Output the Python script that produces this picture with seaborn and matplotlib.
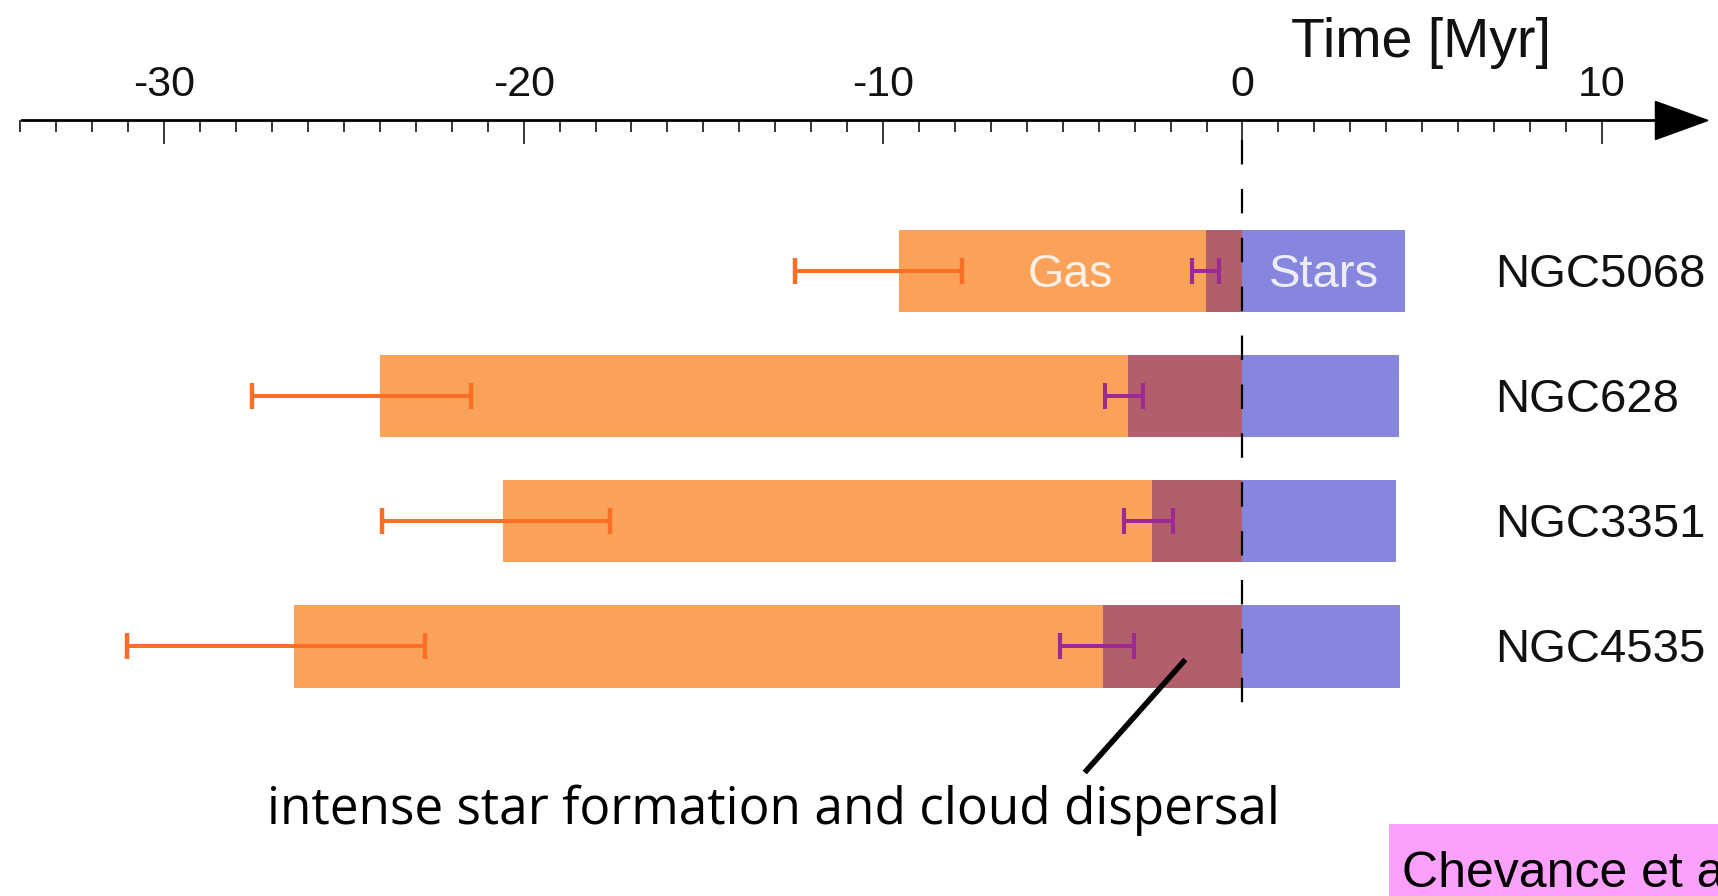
import numpy as np
import pandas as pd
import seaborn as sns
import matplotlib.pyplot as plt
from matplotlib.ticker import FixedLocator, FixedFormatter
from matplotlib.patches import Polygon, Rectangle

# values (Myr)
galaxies = ['NGC5068', 'NGC628', 'NGC3351', 'NGC4535']
gas_start = [-9.57, -23.99, -20.57, -26.38]
overlap_start = [-1.01, -3.19, -2.53, -3.89]
stars_end = [4.52, 4.36, 4.28, 4.39]
gas_err_lo = [2.89, 3.58, 3.38, 4.67]
gas_err_hi = [1.77, 2.52, 2.98, 3.63]
overlap_err_lo = [0.40, 0.64, 0.78, 1.19]
overlap_err_hi = [0.35, 0.41, 0.60, 0.87]
major_ticks = [-30, -20, -10, 0, 10]
major_labels = ['-30', '-20', '-10', '0', '10']

df = pd.DataFrame({'galaxy': galaxies, 'gas': gas_start,
                   'overlap': overlap_start, 'stars': stars_end})

sns.set_theme(style='white')
plt.rcParams['font.family'] = ['Liberation Sans', 'DejaVu Sans']

GAS = '#fba25a'
OVER = '#b25f6b'
STARS = '#8786df'
GAS_ERR = '#fb6e26'
OVER_ERR = '#9d2a94'

fig = plt.figure(figsize=(17.18, 8.96), dpi=100)
ax = fig.add_axes([0, 0, 1, 1])

# stacked phases: gas (0 -> start), overlap on top, stars (0 -> end)
sns.barplot(data=df, y='galaxy', x='gas', orient='h', color=GAS,
            saturation=1, width=0.66, linewidth=0, ax=ax, zorder=2)
sns.barplot(data=df, y='galaxy', x='overlap', orient='h', color=OVER,
            saturation=1, width=0.66, linewidth=0, ax=ax, zorder=3)
sns.barplot(data=df, y='galaxy', x='stars', orient='h', color=STARS,
            saturation=1, width=0.66, linewidth=0, ax=ax, zorder=3)

rows = np.arange(len(galaxies))
ax.errorbar(gas_start, rows, xerr=[gas_err_lo, gas_err_hi], fmt='none',
            ecolor=GAS_ERR, elinewidth=2.9, capsize=9.4, capthick=3.2, zorder=5)
ax.errorbar(overlap_start, rows, xerr=[overlap_err_lo, overlap_err_hi], fmt='none',
            ecolor=OVER_ERR, elinewidth=2.9, capsize=9.4, capthick=3.0, zorder=5)

# t = 0 reference
ax.plot([0, 0], [-1.047, 3.485], color='black', lw=1.6,
        ls=(0, (11, 11)), zorder=4)

# limits chosen so the layout matches the original panel
ax.set_xlim(-34.57, 13.23)
ax.set_ylim(4.996, -2.166)

# timeline axis on top with an arrow
y_axis = -1.203
for s in ['left', 'right', 'bottom']:
    ax.spines[s].set_visible(False)
ax.spines['top'].set_position(('data', y_axis))
ax.spines['top'].set_bounds(-33.96, 11.6)
ax.spines['top'].set_linewidth(2)
ax.spines['top'].set_color('black')
ax.xaxis.tick_top()
ax.xaxis.set_major_locator(FixedLocator(major_ticks))
ax.xaxis.set_major_formatter(FixedFormatter(major_labels))
ax.xaxis.set_minor_locator(FixedLocator(np.arange(-34, 11)))
ax.tick_params(axis='x', which='major', direction='in', length=17, width=1.1,
               color='black', pad=11, labelsize=31, labelcolor='#111111')
ax.tick_params(axis='x', which='minor', direction='in', length=8.6, width=1.1,
               color='black')
ax.set_yticks([])
ax.set_ylabel('')
ax.set_xlabel('')
ax.add_patch(Polygon([[11.49, y_axis - 0.152], [12.95, y_axis], [11.49, y_axis + 0.152]],
                     closed=True, color='black', clip_on=False, zorder=6))
ax.text(1.34, -1.711, 'Time [Myr]', fontsize=40, ha='left', va='baseline', color='#111111')

# labels
for i, g in enumerate(galaxies):
    ax.text(7.04, i + 0.128, g, fontsize=34, ha='left', va='baseline', color='#111111')
ax.text(-4.79, 0.128, 'Gas', fontsize=33.5, ha='center', va='baseline',
        color='white', alpha=0.85, zorder=6)
ax.text(2.26, 0.128, 'Stars', fontsize=34, ha='center', va='baseline',
        color='white', alpha=0.85, zorder=6)

ax.plot([-1.59, -4.39], [3.106, 4.009], color='black', lw=4, solid_capstyle='butt', zorder=6)
ax.text(-13.06, 4.42, 'intense star formation and cloud dispersal', fontsize=37,
        family=['Open Sans', 'DejaVu Sans'], ha='center', va='baseline', color='black')

# citation tag, cut by the right edge as in the original
fig.patches.append(Rectangle((1389 / 1718, 0), 1 - 1389 / 1718, 72 / 896,
                             transform=fig.transFigure, facecolor='#fca1fb',
                             edgecolor='none', zorder=0))
fig.text(1402 / 1718, 1 - 887 / 896, 'Chevance et al.', fontsize=36, ha='left',
         va='baseline', color='black')

plt.savefig('out.png', dpi=100)
plt.close()
